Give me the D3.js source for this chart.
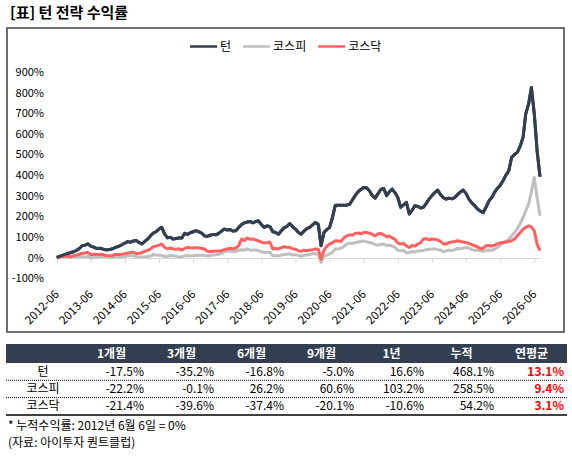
<!DOCTYPE html>
<html>
<head>
<meta charset="utf-8">
<script src="https://d3js.org/d3.v7.min.js"></script>
<style>
    body { margin: 0; background: #fff; }
    text { font-family: "Noto Sans CJK KR", "Noto Sans", sans-serif; fill: #000; }
</style>
</head>
<body>
<div id="chart"></div>
<script>
//Chart data (monthly, 2012-06 .. 2026-08, cumulative % return)
const title = "[표] 턴 전략 수익률"
const seriesNames = ["턴", "코스피", "코스닥"]
const seriesColors = ["#333F50", "#BFBFBF", "#FF6161"]

const turnValues = [
    0, 5, 10, 15, 20, 24, 28,
    35, 45, 57, 60, 66, 55, 50, 44, 45, 42, 38, 37,
    40, 45, 50, 55, 62, 70, 77, 74, 80, 82, 72, 66,
    78, 90, 105, 118, 125, 138, 146, 113, 95, 98, 89, 92,
    95, 94, 117, 112, 120, 125, 130, 124, 118, 105, 102, 108,
    112, 110, 117, 128, 138, 133, 136, 128, 130, 145, 160, 168,
    172, 175, 168, 174, 178, 160, 146, 154, 150, 125, 121, 113,
    130, 145, 150, 165, 150, 138, 122, 113, 128, 140, 146, 158,
    170, 160, 57, 121, 135, 146, 194, 254, 254, 254, 254, 254,
    258, 280, 300, 318, 330, 340, 338, 324, 300, 288, 310, 330,
    335, 300, 318, 332, 315, 291, 243, 255, 267, 211, 230, 251,
    248, 240, 243, 262, 283, 300, 315, 327, 305, 290, 283, 288,
    285, 291, 305, 318, 327, 310, 283, 265, 251, 235, 225, 218,
    245, 275, 290, 316, 335, 350, 372, 400, 421, 485, 500, 510,
    540, 583, 696, 745, 825, 696, 518, 392
]

const kospiValues = [
    0, -1, 1, 3, 2, 0, 2,
    3, 4, 4, 3, 5, -2, 0, 2, 5, 6, 5, 4,
    1, 1, 2, 3, 4, 4, 9, 10, 8, 4, 3, 2,
    3, 5, 7, 14, 12, 11, 10, 5, 5, 10, 8, 6,
    3, 4, 8, 9, 7, 8, 10, 11, 11, 10, 7, 10,
    12, 13, 16, 20, 28, 30, 32, 28, 30, 36, 38, 36,
    42, 35, 36, 36, 33, 28, 24, 25, 26, 8, 10, 8,
    12, 15, 16, 18, 12, 14, 10, 6, 10, 12, 14, 20,
    18, 14, -24, 5, 12, 18, 25, 41, 42, 45, 55, 65,
    70, 68, 72, 75, 78, 80, 76, 73, 70, 62, 60, 63,
    65, 58, 60, 56, 49, 35, 32, 35, 22, 24, 30, 26,
    32, 33, 34, 38, 40, 41, 42, 38, 36, 28, 32, 36,
    34, 38, 44, 42, 45, 49, 46, 38, 35, 36, 32, 30,
    34, 36, 35, 41, 48, 60, 72, 78, 89, 105, 121, 140,
    165, 194, 225, 259, 320, 388, 291, 202
]

const kosdaqValues = [
    0, 3, 6, 8, 5, 6, 8,
    12, 16, 20, 22, 24, 14, 16, 14, 15, 16, 10, 8,
    8, 12, 15, 14, 16, 18, 22, 24, 26, 18, 20, 24,
    30, 35, 41, 52, 55, 60, 65, 48, 42, 46, 41, 40,
    42, 36, 44, 49, 47, 46, 48, 46, 44, 41, 30, 29,
    30, 31, 32, 33, 38, 41, 45, 42, 46, 58, 89, 82,
    95, 88, 90, 85, 81, 75, 70, 72, 74, 41, 44, 42,
    48, 52, 50, 49, 42, 40, 33, 30, 35, 33, 36, 38,
    41, 40, -8, 35, 55, 65, 72, 81, 80, 78, 95, 105,
    110, 108, 117, 119, 115, 121, 121, 118, 112, 105, 115, 117,
    110, 100, 105, 95, 89, 70, 65, 68, 55, 49, 58, 55,
    65, 72, 89, 92, 86, 90, 89, 85, 78, 66, 65, 72,
    75, 78, 81, 78, 75, 73, 68, 62, 57, 52, 41, 45,
    57, 58, 55, 60, 66, 70, 73, 75, 78, 81, 90, 105,
    120, 138, 145, 154, 148, 130, 65, 33
]

const xTickLabels = ["2012-06", "2013-06", "2014-06", "2015-06", "2016-06", "2017-06", "2018-06",
    "2019-06", "2020-06", "2021-06", "2022-06", "2023-06", "2024-06", "2025-06", "2026-06"]
const yTicks = [-100, 0, 100, 200, 300, 400, 500, 600, 700, 800, 900]

//Table data
const tableHeaders = ["1개월", "3개월", "6개월", "9개월", "1년", "누적", "연평균"]
const rowNames = ["턴", "코스피", "코스닥"]
const turnReturns = [-17.5, -35.2, -16.8, -5.0, 16.6, 468.1, 13.1]
const kospiReturns = [-22.2, -0.1, 26.2, 60.6, 103.2, 258.5, 9.4]
const kosdaqReturns = [-21.4, -39.6, -37.4, -20.1, -10.6, 54.2, 3.1]
const footnotes = ["* 누적수익률: 2012년 6월 6일 = 0%", "(자료: 아이투자 퀀트클럽)"]

const width = 572
const height = 456

//month dates (6th of each month, data starts 2012-06-06)
const months = d3.timeMonth.range(new Date(2012, 5, 1), new Date(2026, 8, 1))
    .map(d => d3.timeDay.offset(d, 5))
const tickDates = xTickLabels.map(s => d3.timeParse("%Y-%m-%d")(s + "-06"))

const $svg = d3.select("#chart").append("svg")
    .attr("width", width)
    .attr("height", height)

$svg.append("text")
    .attr("x", 10)
    .attr("y", 18)
    .attr("font-size", 15)
    .attr("font-weight", "bold")
    .text(title)

//chart frame
$svg.append("rect")
    .attr("x", 7)
    .attr("y", 28)
    .attr("width", 557)
    .attr("height", 304)
    .attr("fill", "none")
    .attr("stroke", "#404040")
    .attr("stroke-width", 1.5)

const xScale = d3.scaleTime()
    .domain([months[0], months[months.length - 1]])
    .range([56.7, 540])

const yScale = d3.scaleLinear()
    .domain([-100, 900])
    .range([278.1, 72])

//y axis labels
const yAxis = $svg.append("g")
    .attr("transform", "translate(47,0)")
    .call(d3.axisLeft(yScale).tickValues(yTicks).tickSize(0).tickPadding(3).tickFormat(d => `${d}%`))
yAxis.select(".domain").remove()
yAxis.selectAll("text")
    .attr("font-size", 11)
    .attr("font-family", null)

//x axis at 0%
const xAxis = $svg.append("g")
    .attr("transform", `translate(0,${yScale(0) + 0.5})`)
    .call(d3.axisBottom(xScale).tickValues(tickDates).tickSize(5).tickSizeOuter(0).tickFormat(""))
xAxis.selectAll(".domain, .tick line").attr("stroke", "#D9D9D9")

$svg.selectAll("text.xLabel")
    .data(xTickLabels)
    .enter().append("text")
    .attr("class", "xLabel")
    .attr("font-size", 11.5)
    .attr("text-anchor", "end")
    .attr("transform", (d, i) => `translate(${xScale(tickDates[i]) + 3},295) rotate(-45)`)
    .text(d => d)

//lines
const line = d3.line()
    .x((d, i) => xScale(months[i]))
    .y(d => yScale(d))

const allSeries = [turnValues, kospiValues, kosdaqValues]

$svg.selectAll("path.series")
    .data(allSeries)
    .enter().append("path")
    .attr("class", "series")
    .attr("fill", "none")
    .attr("stroke", (d, i) => seriesColors[i])
    .attr("stroke-width", 3)
    .attr("stroke-linejoin", "round")
    .attr("d", line)

//redraw turn on top
$svg.append("path")
    .datum(turnValues)
    .attr("fill", "none")
    .attr("stroke", seriesColors[0])
    .attr("stroke-width", 3)
    .attr("stroke-linejoin", "round")
    .attr("d", line)

//legend
let lx = 190
seriesNames.forEach((name, i) => {
    $svg.append("line")
        .attr("x1", lx).attr("x2", lx + 27)
        .attr("y1", 46.5).attr("y2", 46.5)
        .attr("stroke", seriesColors[i])
        .attr("stroke-width", 2.5)
    const t = $svg.append("text")
        .attr("x", lx + 30)
        .attr("y", 46.5)
        .attr("dy", "0.35em")
        .attr("font-size", 12)
        .text(name)
    lx += 30 + t.node().getComputedTextLength() + 12
})

//table
const colRight = i => 144 + 70 * i
const rowTop = 363
const rowH = 17.3

$svg.append("rect")
    .attr("x", 6)
    .attr("y", 344)
    .attr("width", 561)
    .attr("height", rowTop - 344)
    .attr("fill", "#333F50")

$svg.selectAll("text.header")
    .data(tableHeaders)
    .enter().append("text")
    .attr("class", "header")
    .attr("x", (d, i) => colRight(i) - 32.5)
    .attr("y", 353.5)
    .attr("dy", "0.35em")
    .attr("text-anchor", "middle")
    .attr("font-size", 12)
    .attr("font-weight", "bold")
    .style("fill", "#fff")
    .text(d => d)

const tableRows = [turnReturns, kospiReturns, kosdaqReturns]

tableRows.forEach((vals, r) => {
    const cy = rowTop + rowH * r + rowH / 2

    $svg.append("text")
        .attr("x", 43)
        .attr("y", cy)
        .attr("dy", "0.35em")
        .attr("text-anchor", "middle")
        .attr("font-size", 12)
        .text(rowNames[r])

    $svg.selectAll(`text.cell${r}`)
        .data(vals)
        .enter().append("text")
        .attr("class", `cell${r}`)
        .attr("x", (d, i) => colRight(i))
        .attr("y", cy)
        .attr("dy", "0.35em")
        .attr("text-anchor", "end")
        .attr("font-size", 12)
        .attr("font-weight", (d, i) => i == vals.length - 1 ? "bold" : null)
        .style("fill", (d, i) => i == vals.length - 1 ? "#FF0000" : "#000")
        .text(d => `${d.toFixed(1)}%`)

    const ly = rowTop + rowH * (r + 1)
    $svg.append("line")
        .attr("x1", 6).attr("x2", 567)
        .attr("y1", ly).attr("y2", ly)
        .attr("stroke", "#000")
        .attr("stroke-width", r == tableRows.length - 1 ? 1.5 : 1)
        .attr("stroke-dasharray", r == tableRows.length - 1 ? null : "1,1")
})

$svg.selectAll("text.note")
    .data(footnotes)
    .enter().append("text")
    .attr("class", "note")
    .attr("x", 8)
    .attr("y", (d, i) => 426 + i * 16.5)
    .attr("dy", "0.35em")
    .attr("font-size", 12)
    .text(d => d)
</script>
</body>
</html>
